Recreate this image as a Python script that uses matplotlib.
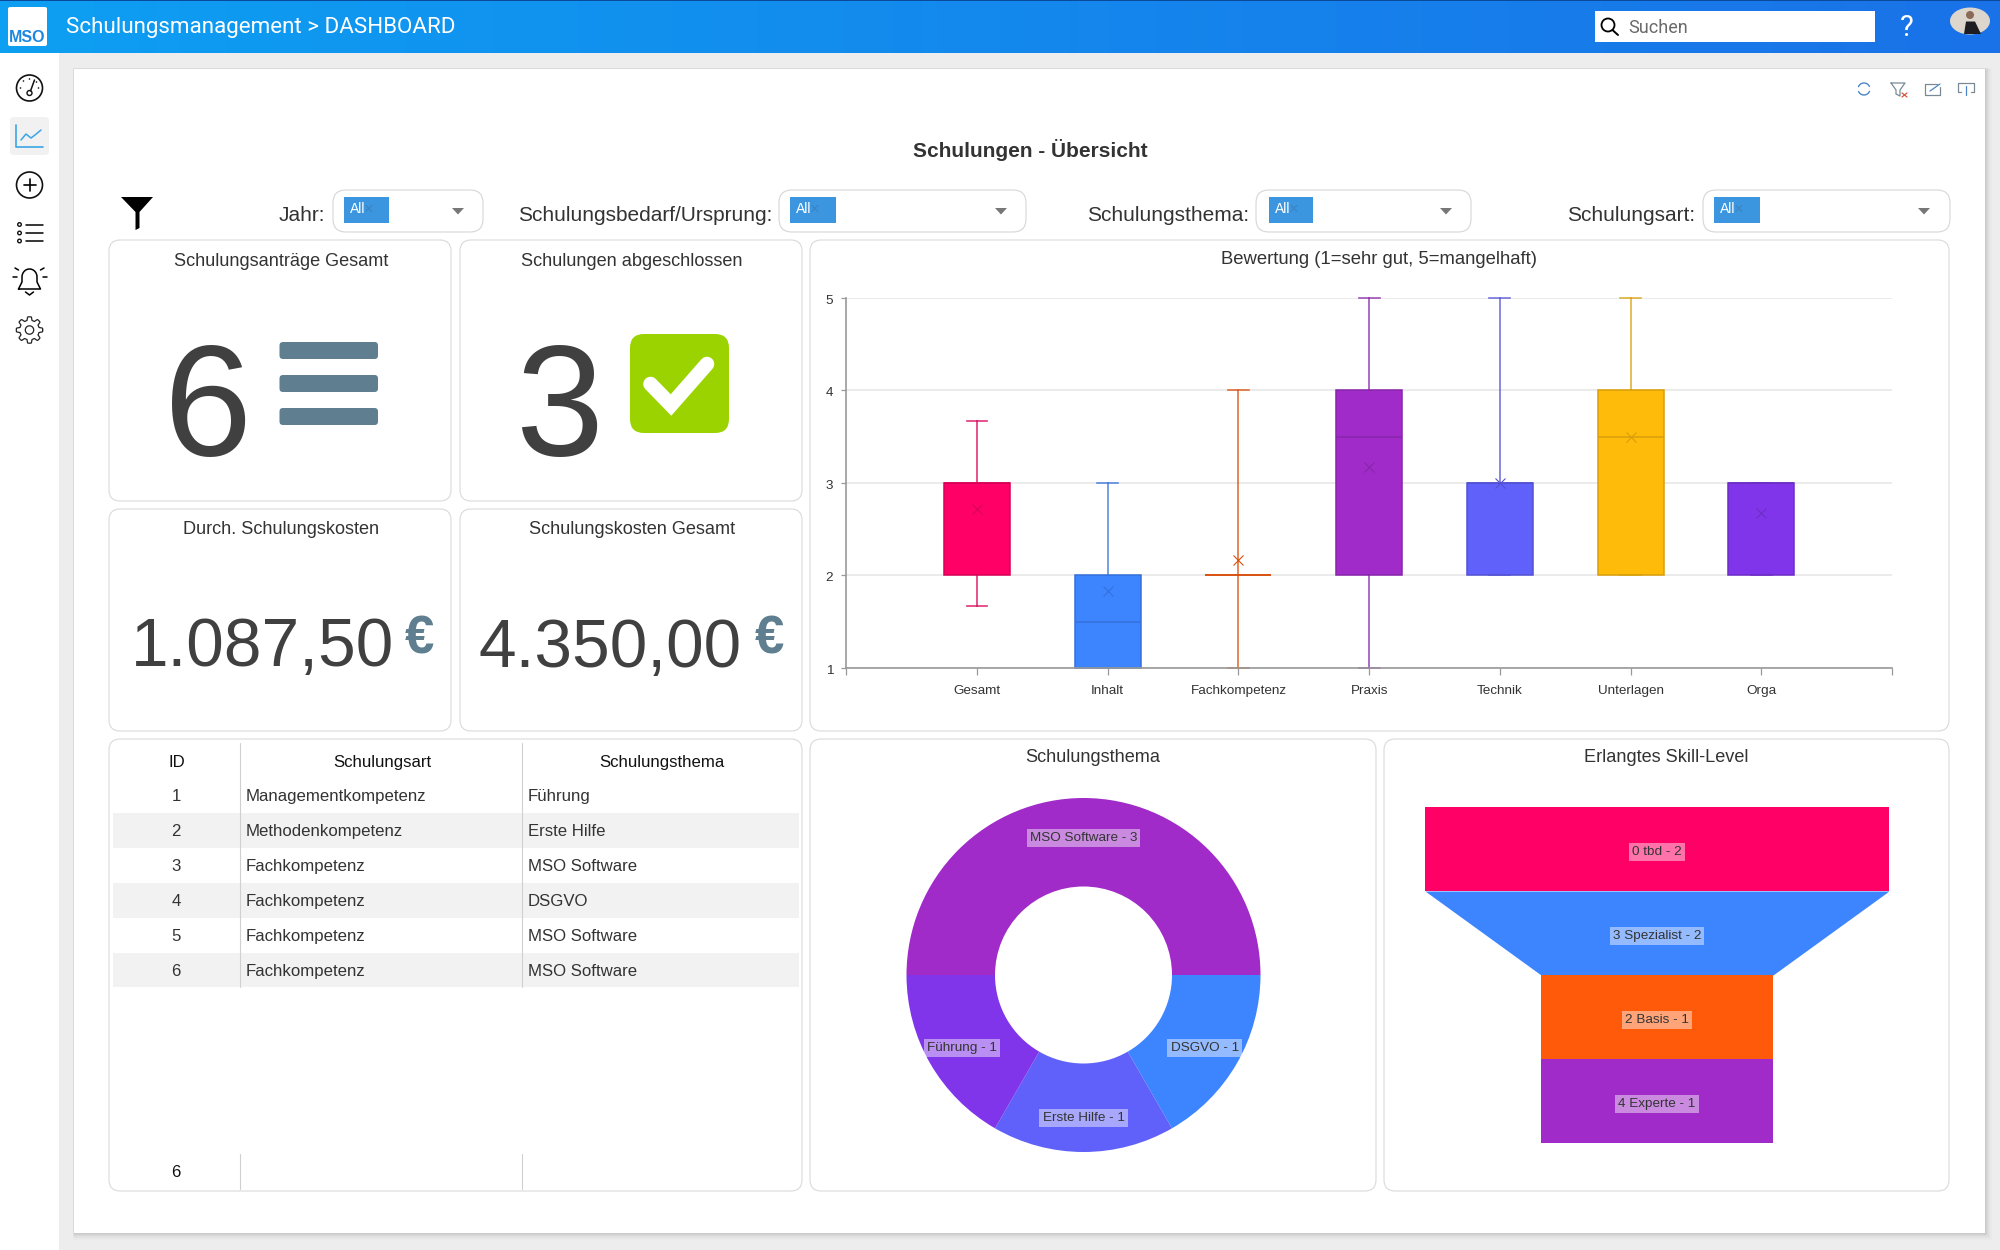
import numpy as np
import matplotlib
matplotlib.use("Agg")
import matplotlib.pyplot as plt
from matplotlib.patches import FancyBboxPatch, Circle, Polygon, Ellipse, Rectangle
from matplotlib.colors import to_rgb
from matplotlib.transforms import ScaledTranslation

# ---------- data ----------
box_categories = ["Gesamt", "Inhalt", "Fachkompetenz", "Praxis", "Technik", "Unterlagen", "Orga"]
box_low    = [1.67, 1.0, 1.0, 1.0, 2.0, 2.0, 2.0]
box_q1     = [2.0, 1.0, 2.0, 2.0, 2.0, 2.0, 2.0]
box_median = [3.0, 1.5, 2.0, 3.5, 3.0, 3.5, 3.0]
box_q3     = [3.0, 2.0, 2.0, 4.0, 3.0, 4.0, 3.0]
box_high   = [3.67, 3.0, 4.0, 5.0, 5.0, 5.0, 3.0]
box_mean   = [2.72, 1.83, 2.17, 3.17, 3.0, 3.5, 2.67]
box_colors = ["#FF0066", "#3D85FF", "#FF5A0A", "#A02BC8", "#6060FA", "#FFBB0A", "#8035EA"]

donut_names  = ["MSO Software", "DSGVO", "Erste Hilfe", "Führung"]
donut_values = [3, 1, 1, 1]
donut_colors = ["#A02BC8", "#3D85FF", "#6060FA", "#8035EA"]

funnel_names  = ["0 tbd", "3 Spezialist", "2 Basis", "4 Experte"]
funnel_values = [2, 2, 1, 1]
funnel_colors = ["#FF0066", "#3D85FF", "#FF5A0A", "#A02BC8"]

table_header = ["ID", "Schulungsart", "Schulungsthema"]
table_ids    = [1, 2, 3, 4, 5, 6]
table_art    = ["Managementkompetenz", "Methodenkompetenz", "Fachkompetenz",
                "Fachkompetenz", "Fachkompetenz", "Fachkompetenz"]
table_thema  = ["Führung", "Erste Hilfe", "MSO Software", "DSGVO", "MSO Software", "MSO Software"]

kpi_antraege = "6"
kpi_abgeschlossen = "3"
kpi_durchschnitt = "1.087,50"
kpi_gesamt = "4.350,00"

# ---------- helpers ----------
W, H = 2000, 1250
plt.rcParams["font.family"] = ["Liberation Sans", "DejaVu Sans"]
fig = plt.figure(figsize=(W / 100, H / 100), dpi=100, facecolor="#EDEDED")
ui = fig.add_axes([0, 0, 1, 1], zorder=0)
ui.set_axis_off()
label_drop = ScaledTranslation(0, -2.0 / 72, fig.dpi_scale_trans)

def px_axes(x0, y0, x1, y1, z=2):
    ax = fig.add_axes([x0 / W, 1 - y1 / H, (x1 - x0) / W, (y1 - y0) / H], zorder=z)
    ax.patch.set_alpha(0)
    return ax

def rrect(x0, y0, x1, y1, r=0, fc="white", ec="none", lw=0, z=2, alpha=None):
    p = FancyBboxPatch((x0, y0), x1 - x0, y1 - y0, boxstyle=f"round,pad=0,rounding_size={r}",
                       fc=fc, ec=ec, lw=lw, zorder=z, alpha=alpha)
    ui.add_patch(p)
    return p

def txt(x, y, s, size=12.5, color="#333333", ha="center", va="center", weight="normal", family=None, z=6):
    kw = {"family": family} if family else {}
    if va == "center":
        y = y + 1.8
    return ui.text(x, y, s, fontsize=size, color=color, ha=ha, va=va, weight=weight, zorder=z, **kw)

def line(xs, ys, color="black", lw=1.1, z=5, **kw):
    ui.plot(xs, ys, color=color, lw=lw, zorder=z, solid_capstyle=kw.pop("cap", "round"), **kw)

# ---------- page chrome ----------
grad = np.linspace(0, 1, 256)[None, :, None]
c0, c1 = np.array(to_rgb("#0D9FF2")), np.array(to_rgb("#1A72E8"))
ui.imshow(c0 + (c1 - c0) * grad, extent=(0, W, 53, 0), aspect="auto", zorder=1)
ui.add_patch(Rectangle((0, 0), W, 1.2, fc="#0B4A9A", zorder=2))
ui.add_patch(Rectangle((0, 53), 59, H - 53, fc="white", zorder=1))
for i, a in zip((7, 5, 3, 1.5), (0.015, 0.03, 0.04, 0.06)):
    rrect(73.5, 68.5, 1985 + i, 1233 + i, 0, fc="black", alpha=a, z=1.5)
rrect(74, 69, 1985, 1233, 0, fc="white", z=1.6)

# logo
rrect(8, 7, 47, 46, 2, fc="white", z=3)
txt(27.5, 35.5, "MSO", size=11.5, color="#1C86E0", weight="bold", z=4)
txt(66, 26, "Schulungsmanagement > DASHBOARD", size=16.1, color="white", ha="left", family="Roboto")

# search
ui.add_patch(Rectangle((1595, 11), 280, 31, fc="white", zorder=3))
ui.add_patch(Circle((1608, 25), 6.5, fc="none", ec="black", lw=1.3, zorder=4))
line([1612.5, 1618], [30, 35], lw=1.4)
txt(1628, 26, "Suchen", size=13, color="#6A6A6A", ha="left", family="Roboto")
txt(1907, 26, "?", size=21, color="white", family="Roboto")
ui.add_patch(Ellipse((1970, 21), 40, 27, fc="#DCD6CC", zorder=3))
ui.add_patch(Circle((1970, 15), 4, fc="#8A6A58", zorder=4))
ui.add_patch(Polygon([(1964, 34), (1966, 21.5), (1975, 21.5), (1981, 34)], fc="#1E1E22", zorder=4))

# sidebar
cx = 29.5
ui.add_patch(Circle((cx, 88), 13, fc="none", ec="#111111", lw=1.2, zorder=4))
ui.add_patch(Circle((cx, 93), 2.5, fc="none", ec="#111111", lw=1, zorder=4))
line([cx + 1, cx + 5], [91, 80], color="#111111", lw=1.1)
for dx, dy in ((-9, 0), (-6, -7), (0, -9), (7, -6), (9, 0)):
    ui.add_patch(Circle((cx + dx, 88 + dy), 0.8, fc="#111111", zorder=4))
rrect(10, 117, 49, 155, 4, fc="#F1F1F1", z=3)
line([16, 16, 43], [125, 147, 147], color="#3AA5E6", lw=1.2)
line([21, 26, 31, 35, 41], [140, 134, 138, 135, 130], color="#3AA5E6", lw=1.1)
ui.add_patch(Circle((cx, 185), 13, fc="none", ec="#111111", lw=1.2, zorder=4))
line([cx - 6, cx + 6], [185, 185], lw=1.2)
line([cx, cx], [179, 191], lw=1.2)
for yy in (224.5, 233, 241):
    ui.add_patch(Circle((19.5, yy), 1.8, fc="none", ec="#111111", lw=1, zorder=4))
    line([26, 43], [yy, yy], lw=1.1)
bt = np.linspace(0, np.pi, 30)
bx = np.r_[cx - 11, cx - 7.5, cx + 7.5 * np.cos(bt)[::-1], cx + 7.5, cx + 11, cx - 11]
by = np.r_[289, 282, 277 - 8 * np.sin(bt)[::-1], 282, 289, 289]
line(bx, by, lw=1.1)
line([cx - 4, cx, cx + 4], [292, 295, 292], lw=1.1)
for s in (-1, 1):
    line([cx + s * 13, cx + s * 17], [277, 277], lw=1.1)
    line([cx + s * 11, cx + s * 14.5], [270, 268], lw=1.1)
ang = np.linspace(0, 2 * np.pi, 193)
rad = 11.5 + 1.7 * np.clip(2.2 * np.cos(8 * ang), -1, 1)
line(cx + rad * np.cos(ang), 330 + rad * np.sin(ang), color="#222222", lw=0.9)
ui.add_patch(Circle((cx, 330), 4.2, fc="none", ec="#222222", lw=0.9, zorder=4))

# tool icons top right
rt = np.linspace(0.4, 2.7, 20)
line(1864 + 6 * np.cos(rt), 89 + 6 * np.sin(rt), color="#4A86C5", lw=1)
line(1864 + 6 * np.cos(rt + np.pi), 89 + 6 * np.sin(rt + np.pi), color="#4A86C5", lw=1)
line([1891, 1905, 1900, 1900, 1896, 1896, 1891], [83, 83, 90, 96, 94, 90, 83], color="#7A8A95", lw=0.9)
line([1902, 1907], [93, 97], color="#D9533C", lw=0.9)
line([1907, 1902], [93, 97], color="#D9533C", lw=0.9)
line([1937, 1925, 1925, 1940, 1940], [84, 84, 95, 95, 87], color="#7A8A95", lw=0.9)
line([1930, 1940], [91, 84], color="#4A86C5", lw=0.9)
line([1961, 1958, 1958, 1974, 1974, 1971], [92, 92, 83, 83, 92, 92], color="#7A8A95", lw=0.9)
line([1966, 1966], [86, 95], color="#4A86C5", lw=0.9)

# title and filter row
txt(1030.5, 148, "Schulungen - Übersicht", size=15.0, color="#333333", weight="bold")
ui.add_patch(Polygon([(121, 197), (153, 197), (139.5, 212), (139.5, 228), (135.5, 230), (135.5, 212)], fc="black", zorder=4))

filter_labels = ["Jahr:", "Schulungsbedarf/Ursprung:", "Schulungsthema:", "Schulungsart:"]
filter_geom = [(325, 333, 483, 344, 389, 458), (772, 779, 1026, 790, 836, 1001),
               (1249, 1256, 1471, 1269, 1313, 1446), (1695, 1703, 1950, 1714, 1760, 1924)]
for lab, (lx, b0, b1, c0_, c1_, ar) in zip(filter_labels, filter_geom):
    txt(lx, 214, lab, size=15.05, ha="right")
    rrect(b0, 190, b1, 232, 13, fc="white", ec="#D6D6D6", lw=0.8, z=3)
    ui.add_patch(Rectangle((c0_, 197), c1_ - c0_, 26, fc="#3B96DF", zorder=4))
    txt(c0_ + 6, 207.5, "All", size=10, color="white", ha="left")
    txt(c0_ + 25, 207.5, "×", size=12, color="#3A85C5", ha="center")
    ui.add_patch(Polygon([(ar - 6, 208), (ar + 6, 208), (ar, 214.5)], fc="#777777", zorder=4))

# cards
cards = [(109, 240, 451, 501), (460, 240, 802, 501), (109, 509, 451, 731), (460, 509, 802, 731),
         (810, 240, 1949, 731), (109, 739, 802, 1191), (810, 739, 1376, 1191), (1384, 739, 1949, 1191)]
for x0, y0, x1, y1 in cards:
    rrect(x0, y0, x1, y1, 11, fc="white", ec="#DADADA", lw=0.8, z=2)

card_titles = [(281, 260, "Schulungsanträge Gesamt"), (632, 260, "Schulungen abgeschlossen"),
               (281, 528, "Durch. Schulungskosten"), (632, 528, "Schulungskosten Gesamt"),
               (1379, 258, 'Bewertung (1=sehr gut, 5=mangelhaft)'),
               (1093, 756, "Schulungsthema"), (1666, 756, "Erlangtes Skill-Level")]
for x, y, s in card_titles:
    txt(x, y, s, size=13.3 if s.startswith("Bewertung") else 13.1)

# KPIs
DARK = "#404040"
SLATE = "#5F7F90"
txt(208, 455, kpi_antraege, size=114, color=DARK, va="baseline")
txt(559, 455, kpi_abgeschlossen, size=114, color=DARK, va="baseline")
for y0 in (342, 375, 408):
    rrect(279.5, y0, 378, y0 + 17, 3.5, fc=SLATE, z=4)
rrect(630, 334, 729, 433, 14, fc="#9BD300", z=4)
line([650.5, 671, 707], [384, 405, 364], color="white", lw=10.5, z=5, cap="round", solid_joinstyle="miter")
txt(262.5, 666, kpi_durchschnitt, size=48.7, color=DARK, va="baseline")
txt(610.5, 667, kpi_gesamt, size=48.7, color=DARK, va="baseline")
txt(419, 654, "€", size=38, color=SLATE, weight="bold", va="baseline")
txt(769.5, 654, "€", size=38, color=SLATE, weight="bold", va="baseline")

# table
for y0, y1 in ((812.7, 847.7), (882.7, 918), (952.7, 987)):
    ui.add_patch(Rectangle((113, y0), 686, y1 - y0, fc="#F2F2F2", zorder=3))
for x in (239.6, 522.4):
    line([x, x], [742.7, 987], color="#D0D0D0", lw=0.8, z=4)
    line([x, x], [1154, 1189], color="#D0D0D0", lw=0.8, z=4)
for x, s in zip((177, 382, 661.5), table_header):
    txt(x, 760.7, s, size=12.1, color="#111111")
for i, (n, a, t) in enumerate(zip(table_ids, table_art, table_thema)):
    y = 795 + 35 * i
    txt(176, y, str(n), size=12.1)
    txt(245.5, y, a, size=12.1, ha="left")
    txt(528, y, t, size=12.1, ha="left")
txt(176, 1171, str(len(table_ids)), size=12.1, color="#111111")

ui.set_xlim(0, W)
ui.set_ylim(H, 0)

# ---------- box plot ----------
ax = px_axes(846.3, 297.7, 1892, 668)
stats = [dict(label=c, whislo=l, q1=a, med=m, q3=b, whishi=h, mean=e)
         for c, l, a, m, b, h, e in zip(box_categories, box_low, box_q1, box_median, box_q3, box_high, box_mean)]
positions = list(range(len(stats)))
art = ax.bxp(stats, positions=positions, widths=0.505, capwidths=0.16, patch_artist=True,
             showmeans=True, showfliers=False, zorder=3,
             meanprops=dict(marker="x", markersize=6.5, markeredgewidth=0.8))
def darker(c, f=0.85):
    return tuple(v * f for v in to_rgb(c))
for i, col in enumerate(box_colors):
    dk = darker(col)
    art["boxes"][i].set(facecolor=col, edgecolor=dk, linewidth=1.1, clip_on=False)
    art["medians"][i].set(color=dk, linewidth=1.1)
    art["means"][i].set(markeredgecolor=dk, markerfacecolor=dk)
    for w in art["whiskers"][2 * i:2 * i + 2]:
        w.set(color=dk, alpha=0.8, linewidth=1.2, clip_on=False)
    for w in art["caps"][2 * i:2 * i + 2]:
        w.set(color=dk, alpha=0.8, linewidth=1.2, clip_on=False)
ax.set_xlim(-1, 7)
ax.set_ylim(1, 5)
ax.set_xticks(range(-1, 8))
ax.set_xticklabels([""] + box_categories + [""])
ax.set_yticks([1, 2, 3, 4, 5])
ax.set_yticklabels(["1", "2", "3", "4", "5"])
ax.tick_params(axis="x", length=5, width=0.9, color="#999999", labelsize=9.7, labelcolor="#333333", pad=7)
ax.tick_params(axis="y", length=3.5, width=0.9, color="#999999", labelsize=9.7, labelcolor="#333333", pad=6)
for lab in ax.get_yticklabels():
    lab.set_transform(lab.get_transform() + ScaledTranslation(0, -1.0 / 72, fig.dpi_scale_trans))
ax.yaxis.grid(True, color="#E6E6E6", lw=1.1, zorder=0)
ax.set_axisbelow(True)
for s in ("top", "right"):
    ax.spines[s].set_visible(False)
for s in ("left", "bottom"):
    ax.spines[s].set(color="#999999", linewidth=1.2, zorder=6)

# ---------- donut ----------
R = 177
dax = px_axes(1083.5 - R, 975 - R, 1083.5 + R, 975 + R)
wedges, texts = dax.pie(donut_values, colors=donut_colors, startangle=180, counterclock=False, radius=1,
                        labels=[f"{n} - {v}" for n, v in zip(donut_names, donut_values)], labeldistance=0.79,
                        wedgeprops=dict(width=0.5, linewidth=0))
for t in texts:
    t.set(ha="center", va="center", fontsize=9.7, color="#333333",
          bbox=dict(fc="white", ec="none", alpha=0.45, pad=2.2))
    t.set_transform(t.get_transform() + label_drop)
dax.set_xlim(-1, 1)
dax.set_ylim(-1, 1)

# ---------- funnel ----------
fax = px_axes(1425, 807, 1889, 1143)
n = len(funnel_values)
next_vals = funnel_values[1:] + funnel_values[-1:]
for i, (name, v, nv, col) in enumerate(zip(funnel_names, funnel_values, next_vals, funnel_colors)):
    yy = [i, i + 1]
    fax.fill_betweenx(yy, [-v, -nv], [v, nv], color=col, lw=0)
    t = fax.text(0, i + 0.5, f"{name} - {v}", ha="center", va="center", fontsize=9.7, color="#333333",
                 bbox=dict(fc="white", ec="none", alpha=0.45, pad=2.2))
    t.set_transform(t.get_transform() + label_drop)
fax.set_xlim(-2, 2)
fax.set_ylim(n, 0)
fax.set_axis_off()

fig.savefig("out.png", dpi=100, facecolor=fig.get_facecolor())
